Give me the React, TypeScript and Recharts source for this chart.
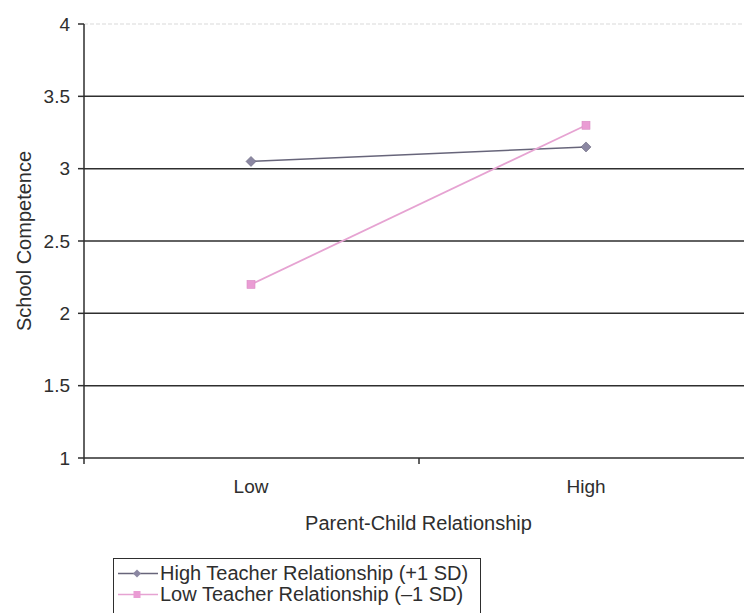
import React from 'react';
import { LineChart, Line, XAxis, YAxis, ReferenceLine } from 'recharts';

// values
const categories = ['Low', 'High'];
const highTeacher = [3.05, 3.15];
const lowTeacher = [2.2, 3.3];
const seriesNames = ['High Teacher Relationship (+1 SD)', 'Low Teacher Relationship (\u20131 SD)'];
const yTicks = [1, 1.5, 2, 2.5, 3, 3.5, 4];
const gridValues = [1.5, 2, 2.5, 3, 3.5];
const yTitle = 'School Competence';
const xTitle = 'Parent-Child Relationship';

const data = categories.map((category, i) => ({
  category,
  high: highTeacher[i],
  low: lowTeacher[i],
}));

const FONT = '"Liberation Sans", Arial, sans-serif';
const INK = '#2e2e2e';
const HIGH_LINE = '#67657a';
const HIGH_MARK = '#8b87a2';
const LOW_LINE = '#e6a3d2';
const LOW_MARK = '#ea9cd4';

// half a category slot: used as axis padding, and for the between-category tick marks
const HALF_SLOT = 167;
const TICK_SIZE = 6;
const TICK_MARGIN = 16;

const Diamond = (props: any) => {
  const { cx, cy } = props;
  if (cx == null || cy == null) return null;
  const r = 5;
  return (
    <polygon
      points={`${cx},${cy - r} ${cx + r},${cy} ${cx},${cy + r} ${cx - r},${cy}`}
      fill={HIGH_MARK}
      stroke={HIGH_LINE}
      strokeWidth={0.6}
    />
  );
};

const Square = (props: any) => {
  const { cx, cy } = props;
  if (cx == null || cy == null) return null;
  const r = 4;
  return <rect x={cx - r} y={cy - r} width={r * 2} height={r * 2} fill={LOW_MARK} stroke="#d98cc4" strokeWidth={0.6} />;
};

// category label plus Excel-style tick marks on the category boundaries
const CategoryTick = (props: any) => {
  const { x, y, payload, index } = props;
  const top = y - TICK_SIZE - TICK_MARGIN;
  const last = index === categories.length - 1;
  return (
    <g>
      <line x1={x - HALF_SLOT} x2={x - HALF_SLOT} y1={top} y2={top + TICK_SIZE} stroke={INK} strokeWidth={1.5} />
      {last && (
        <line x1={x + HALF_SLOT} x2={x + HALF_SLOT} y1={top} y2={top + TICK_SIZE} stroke={INK} strokeWidth={1.5} />
      )}
      <text x={x} y={y} dy="0.71em" textAnchor="middle" fill={INK} fontSize={19} fontFamily={FONT}>
        {payload.value}
      </text>
    </g>
  );
};

const YTitle = (props: any) => {
  const { viewBox } = props;
  const x = viewBox.x + 24;
  const y = viewBox.y + viewBox.height / 2;
  return (
    <text
      x={x}
      y={y}
      transform={`rotate(-90 ${x} ${y})`}
      textAnchor="middle"
      dominantBaseline="central"
      fontSize={20}
      fill={INK}
      fontFamily={FONT}
    >
      {yTitle}
    </text>
  );
};

const XTitle = (props: any) => {
  const { viewBox } = props;
  return (
    <text
      x={viewBox.x + viewBox.width / 2}
      y={viewBox.y + 72}
      textAnchor="middle"
      fontSize={20}
      fill={INK}
      fontFamily={FONT}
    >
      {xTitle}
    </text>
  );
};

const LegendRow = ({ name, line, marker }: { name: string; line: string; marker: React.ReactNode }) => (
  <div style={{ display: 'flex', alignItems: 'center', height: 21 }}>
    <svg width={40} height={21} style={{ flex: 'none' }}>
      <line x1={0} y1={10.5} x2={40} y2={10.5} stroke={line} strokeWidth={1.5} />
      {marker}
    </svg>
    <span style={{ marginLeft: 2, fontSize: 20, color: INK, whiteSpace: 'nowrap' }}>{name}</span>
  </div>
);

export default function App() {
  return (
    <div
      style={{
        position: 'absolute',
        top: 0,
        left: 0,
        width: 744,
        height: 613,
        overflow: 'hidden',
        background: '#fff',
        fontFamily: FONT,
      }}
    >
      <LineChart
        width={800}
        height={613}
        data={data}
        margin={{ top: 24, right: 47, left: 0, bottom: 154 }}
        style={{ fontFamily: FONT }}
      >
        <XAxis
          dataKey="category"
          height={1}
          padding={{ left: HALF_SLOT, right: HALF_SLOT }}
          interval={0}
          tickLine={false}
          axisLine={{ stroke: INK, strokeWidth: 1.5 }}
          tickSize={TICK_SIZE}
          tickMargin={TICK_MARGIN}
          tick={<CategoryTick />}
          label={<XTitle />}
        />
        <YAxis
          width={84}
          type="number"
          domain={[1, 4]}
          ticks={yTicks}
          interval={0}
          axisLine={{ stroke: INK, strokeWidth: 1.5 }}
          tickLine={{ stroke: INK, strokeWidth: 1.5 }}
          tickSize={6}
          tickMargin={8}
          tick={{ fill: INK, fontSize: 19 }}
          label={<YTitle />}
        />
        {gridValues.map((v) => (
          <ReferenceLine key={v} y={v} stroke={INK} strokeWidth={1.5} />
        ))}
        <ReferenceLine y={4} stroke="#d9d9d9" strokeWidth={1.2} strokeDasharray="4 2" />
        <Line
          dataKey="high"
          name={seriesNames[0]}
          stroke={HIGH_LINE}
          strokeWidth={1.5}
          dot={<Diamond />}
          activeDot={false}
          isAnimationActive={false}
        />
        <Line
          dataKey="low"
          name={seriesNames[1]}
          stroke={LOW_LINE}
          strokeWidth={1.8}
          dot={<Square />}
          activeDot={false}
          isAnimationActive={false}
        />
      </LineChart>
      <div
        style={{
          position: 'absolute',
          left: 113,
          top: 558,
          width: 368,
          height: 70,
          boxSizing: 'border-box',
          border: `1.5px solid ${INK}`,
          background: '#fff',
          padding: '4px 0 0 4px',
        }}
      >
        <LegendRow
          name={seriesNames[0]}
          line={HIGH_LINE}
          marker={<polygon points="19,6.5 23,10.5 19,14.5 15,10.5" fill={HIGH_MARK} />}
        />
        <LegendRow
          name={seriesNames[1]}
          line={LOW_LINE}
          marker={<rect x={15.5} y={7} width={7} height={7} fill={LOW_MARK} />}
        />
      </div>
    </div>
  );
}
